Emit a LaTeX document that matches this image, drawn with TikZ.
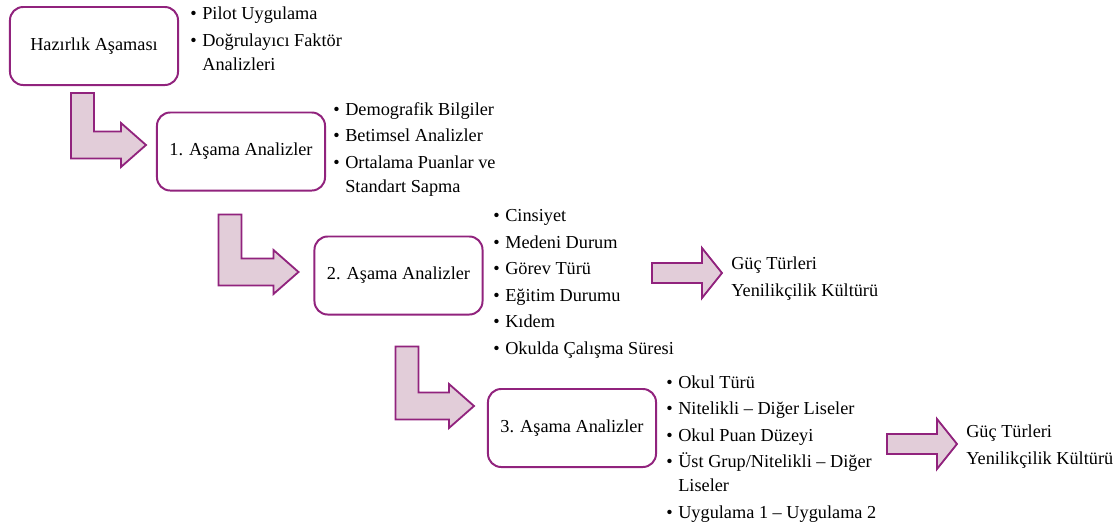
\documentclass[tikz,border=0pt]{standalone}
\usepackage{fontspec}
\setmainfont{Liberation Serif}
\usetikzlibrary{calc}
\definecolor{stagepurple}{RGB}{145,35,125}
\definecolor{arrowfill}{RGB}{226,205,217}

\newcommand{\bul}{\textbullet\hspace{4pt}}
\newcommand{\ind}{\hphantom{\textbullet\hspace{4pt}}}
% bent block arrow: stem top centre, tip
\newcommand{\bentarrow}[2]{%
  \path (#1) coordinate (ba-s) (#2) coordinate (ba-t);
  \filldraw[blockarrow] ($(ba-s)+(-11.5,0)$) -- ($(ba-s)+(11.5,0)$)
    -- ($(ba-s |- ba-t)+(11.5,-13.5)$) -- ($(ba-t)+(-25,-13.5)$)
    -- ($(ba-t)+(-25,-22)$) -- (ba-t) -- ($(ba-t)+(-25,22)$)
    -- ($(ba-t)+(-25,13.5)$) -- ($(ba-s |- ba-t)+(-11.5,13.5)$) -- cycle;}
% straight block arrow: tail centre, tip
\newcommand{\flatarrow}[2]{%
  \path (#1) coordinate (fa-s) (#2) coordinate (fa-t);
  \filldraw[blockarrow] ($(fa-s)+(0,-10)$) -- ($(fa-t)+(-20,-10)$)
    -- ($(fa-t)+(-20,-25)$) -- (fa-t) -- ($(fa-t)+(-20,25)$)
    -- ($(fa-t)+(-20,10)$) -- ($(fa-s)+(0,10)$) -- cycle;}

\begin{document}
\begin{tikzpicture}[x=0.025cm, y=-0.025cm,
  stagebox/.style={draw=stagepurple, line width=1.4pt, fill=white, rounded corners=0.33cm,
    minimum width=4.2cm, minimum height=1.95cm, font=\fontsize{13pt}{16pt}\selectfont},
  itemlist/.style={anchor=base west, inner sep=0pt, align=left, font=\fontsize{13pt}{17pt}\selectfont},
  blockarrow/.style={draw=stagepurple, fill=arrowfill, line width=1.3pt, line join=miter}]
\useasboundingbox (0,0) rectangle (1120,529);

% stage boxes
\node[stagebox] (box0) at (94,46) {Hazırlık Aşaması};
\node[stagebox] (box1) at (241,151.5) {1. Aşama Analizler};
\node[stagebox] (box2) at (398.5,275.5) {2. Aşama Analizler};
\node[stagebox] (box3) at (572,428) {3. Aşama Analizler};

% bullet lists (placed at the baseline of their last line)
\node[itemlist] (list0) at (190,70) {\bul Pilot Uygulama\\[1.8pt]\bul Doğrulayıcı Faktör\\\ind Analizleri};
\node[itemlist] (list1) at (333,192) {\bul Demografik Bilgiler\\[1.8pt]\bul Betimsel Analizler\\[1.8pt]\bul Ortalama Puanlar ve\\\ind Standart Sapma};
\node[itemlist] (list2) at (493,354) {\bul Cinsiyet\\[1.8pt]\bul Medeni Durum\\[1.8pt]\bul Görev Türü\\[1.8pt]\bul Eğitim Durumu\\[1.8pt]\bul Kıdem\\[1.8pt]\bul Okulda Çalışma Süresi};
\node[itemlist] (list3) at (666,518) {\bul Okul Türü\\[1.8pt]\bul Nitelikli -- Diğer Liseler\\[1.8pt]\bul Okul Puan Düzeyi\\[1.8pt]\bul Üst Grup/Nitelikli -- Diğer\\\ind Liseler\\[1.8pt]\bul Uygulama 1 -- Uygulama 2};

% results
\node[itemlist] (res2) at (731,296) {Güç Türleri\\[1.8pt]Yenilikçilik Kültürü};
\node[itemlist] (res3) at (966,464) {Güç Türleri\\[1.8pt]Yenilikçilik Kültürü};

% arrows between stages
\bentarrow{$(box0.south)+(-11.5,7)$}{$(box1.west)+(-10,-6.5)$}
\bentarrow{$(box1.south)+(-11,23)$}{$(box2.west)+(-15,-3.5)$}
\bentarrow{$(box2.south)+(8.5,31)$}{$(box3.west)+(-13,-22)$}

% arrows to results
\coordinate (out2) at (652,273);
\coordinate (in2) at (722,273);
\coordinate (out3) at (887,444);
\coordinate (in3) at (957,444);
\flatarrow{out2}{in2}
\flatarrow{out3}{in3}
\end{tikzpicture}
\end{document}
